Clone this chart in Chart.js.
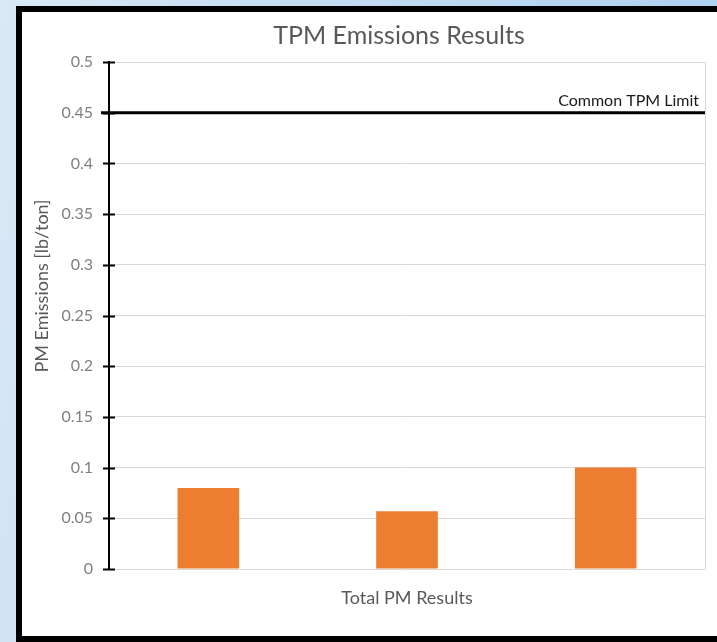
<!DOCTYPE html>
<html>
<head>
<meta charset="utf-8">
<script src="https://cdn.jsdelivr.net/npm/chart.js@4.4.0/dist/chart.umd.min.js"></script>
<style>
    html, body {
        margin: 0;
        padding: 0;
        width: 717px;
        height: 642px;
        overflow: hidden;
        background: linear-gradient(100deg, #dbe9f5 0%, #c6def2 30%, #a9cfee 100%);
    }
    #frame {
        position: absolute;
        left: 16px;
        top: 6px;
        width: 701px;
        height: 624px;
        border: 6px solid #000;
        border-right: none;
        background: #fff;
    }
    #chart {
        display: block;
    }
</style>
</head>
<body>
<div id="frame">
    <canvas id="chart" width="695" height="624"></canvas>
</div>
<script>
const categories = ["Total PM Results"];
const seriesNames = ["Test 1", "Test 2", "Test 3"];
const seriesValues = [0.08, 0.057, 0.1];
const yTickLabels = ["0", "0.05", "0.1", "0.15", "0.2", "0.25", "0.3", "0.35", "0.4", "0.45", "0.5"];
const limitValue = 0.45;
const limitLabel = "Common TPM Limit";
const chartTitle = "TPM Emissions Results";
const yAxisTitle = "PM Emissions [lb/ton]";

const FONT = "Lato, 'Open Sans', sans-serif";

// title, limit line, y axis ticks across the axis and the rotated axis title
const extrasPlugin = {
    id: "extras",
    afterDraw(chart) {
        const ctx = chart.ctx;
        const y = chart.scales.y;
        const area = chart.chartArea;

        ctx.save();
        // chart title (Excel centres it a bit right of the canvas middle)
        ctx.fillStyle = "#595959";
        ctx.font = "25px " + FONT;
        ctx.textAlign = "center";
        ctx.textBaseline = "middle";
        ctx.fillText(chartTitle, 377, 24);

        // axis ticks crossing the axis line
        ctx.strokeStyle = "#000";
        ctx.lineWidth = 2;
        y.ticks.forEach(t => {
            const py = Math.round(y.getPixelForValue(t.value)) + 0.5;
            ctx.beginPath();
            ctx.moveTo(area.left - 6, py);
            ctx.lineTo(area.left + 6, py);
            ctx.stroke();
        });

        // limit line
        const ly = y.getPixelForValue(limitValue);
        ctx.lineWidth = 3;
        ctx.beginPath();
        ctx.moveTo(area.left - 8, ly);
        ctx.lineTo(area.right, ly);
        ctx.stroke();

        ctx.fillStyle = "#1a1a1a";
        ctx.font = "16px " + FONT;
        ctx.textAlign = "right";
        ctx.textBaseline = "bottom";
        ctx.fillText(limitLabel, area.right - 6, ly - 4);

        // y axis title
        ctx.translate(20, 274);
        ctx.rotate(-Math.PI / 2);
        ctx.fillStyle = "#595959";
        ctx.font = "18px " + FONT;
        ctx.textAlign = "center";
        ctx.textBaseline = "middle";
        ctx.fillText(yAxisTitle, 0, 0);
        ctx.restore();
    }
};

const datasets = seriesValues.map((v, i) => ({
    label: seriesNames[i],
    data: [v],
    backgroundColor: "#ED7D31",
    barPercentage: 0.31,
    categoryPercentage: 1.0
}));

const chart = new Chart(document.getElementById("chart"), {
    type: "bar",
    data: {
        labels: categories,
        datasets: datasets
    },
    options: {
        responsive: false,
        animation: false,
        layout: {
            padding: { left: 0, right: 12, top: 50, bottom: 0 }
        },
        plugins: {
            legend: { display: false },
            tooltip: { enabled: false },
            title: { display: false }
        },
        scales: {
            x: {
                grid: {
                    display: true,
                    color: "#d9d9d9",
                    drawTicks: false
                },
                border: { display: false },
                ticks: {
                    color: "#595959",
                    font: { family: FONT, size: 18 },
                    padding: 18
                },
                afterFit: scale => { scale.height = 67; }
            },
            y: {
                min: 0,
                max: 0.5,
                ticks: {
                    stepSize: 0.05,
                    color: "#808080",
                    font: { family: FONT, size: 16 },
                    padding: 16,
                    callback: (value, index) => yTickLabels[index]
                },
                grid: {
                    color: "#d9d9d9",
                    drawTicks: false
                },
                border: { display: true, color: "#000", width: 2 },
                afterFit: scale => { scale.width = 87; }
            }
        }
    },
    plugins: [extrasPlugin]
});
</script>
</body>
</html>
